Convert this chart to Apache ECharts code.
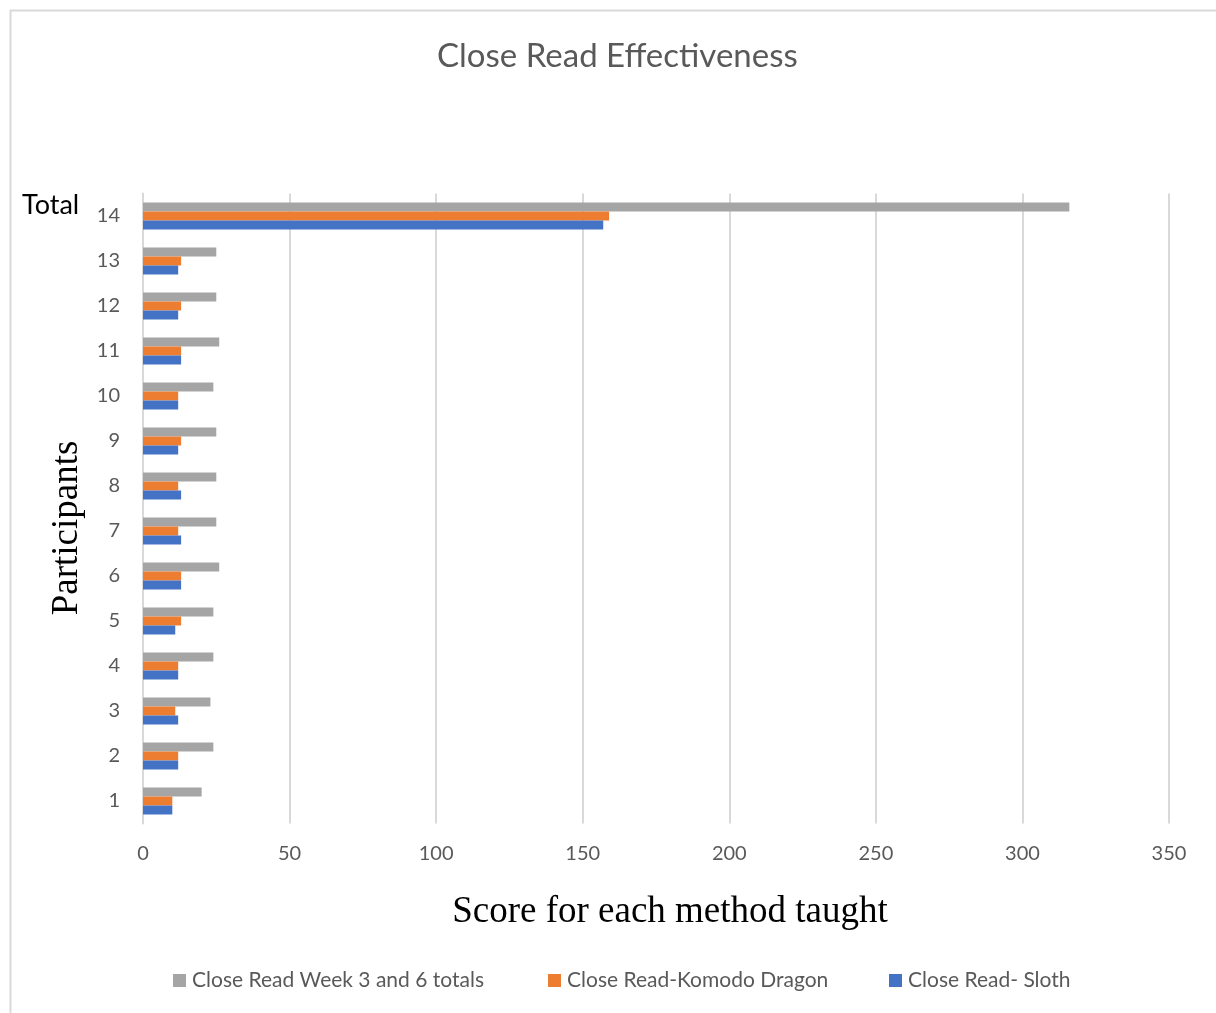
<!DOCTYPE html>
<html>
<head>
<meta charset="utf-8">
<script src="https://cdn.jsdelivr.net/npm/echarts@6/dist/echarts.min.js"></script>
<style>
  html, body { margin: 0; padding: 0; background: #ffffff; }
  #chart { width: 1216px; height: 1013px; }
</style>
</head>
<body>
<div id="chart"></div>
<script>
// Participant numbers (14 = total row)
const participants = ['1', '2', '3', '4', '5', '6', '7', '8', '9', '10', '11', '12', '13', '14'];

// Scores per participant
const weekTotals = [20, 24, 23, 24, 24, 26, 25, 25, 25, 24, 26, 25, 25, 316];
const komodoDragon = [10, 12, 11, 12, 13, 13, 12, 12, 13, 12, 13, 13, 13, 159];
const sloth = [10, 12, 12, 12, 11, 13, 13, 13, 12, 12, 13, 12, 12, 157];

// Value axis ticks
const xTicks = { min: 0, max: 350, interval: 50 };

const seriesNames = ['Close Read Week 3 and 6 totals', 'Close Read-Komodo Dragon', 'Close Read- Sloth'];
const seriesColors = ['#a5a5a5', '#ed7d31', '#4472c4'];

const sansFont = 'Lato, "Liberation Sans", sans-serif';
const serifFont = '"Liberation Serif", "DejaVu Serif", serif';

const chart = echarts.init(document.getElementById('chart'), null, { renderer: 'canvas' });

const seriesData = [weekTotals, komodoDragon, sloth];

// One legend block per series, each placed on its own
const legendLefts = [168, 543, 884];
const legends = seriesNames.map((name, i) => ({
  left: legendLefts[i],
  top: 965,
  itemWidth: 13,
  itemHeight: 13,
  icon: 'rect',
  data: [name],
  textStyle: { fontFamily: sansFont, fontSize: 21, color: '#595959', padding: [0, 0, 0, 1] }
}));

chart.setOption({
  backgroundColor: '#ffffff',
  animation: false,
  title: {
    text: 'Close Read Effectiveness',
    left: 432,
    top: 35,
    textStyle: { fontFamily: sansFont, fontSize: 33, fontWeight: 'normal', color: '#595959' }
  },
  legend: legends,
  grid: { left: 143, right: 47, top: 193.5, bottom: 189.5, containLabel: false },
  xAxis: {
    type: 'value',
    min: xTicks.min,
    max: xTicks.max,
    interval: xTicks.interval,
    axisLine: { show: false },
    axisTick: { show: false },
    splitLine: { show: true, lineStyle: { color: '#d9d9d9', width: 2 } },
    axisLabel: { fontFamily: sansFont, fontSize: 20, color: '#595959', margin: 20 }
  },
  yAxis: {
    type: 'category',
    data: participants,
    axisLine: { show: true, lineStyle: { color: '#d9d9d9', width: 2 } },
    axisTick: { show: false },
    axisLabel: { fontFamily: sansFont, fontSize: 20, color: '#595959', margin: 23, padding: [3, 0, 0, 0] }
  },
  series: seriesNames.map((name, i) => ({
    name: name,
    type: 'bar',
    data: seriesData[i],
    barWidth: 9,
    barGap: '0%',
    itemStyle: { color: seriesColors[i] }
  })),
  graphic: [
    {
      type: 'rect',
      silent: true,
      shape: { x: 10.5, y: 10.5, width: 1230, height: 1030 },
      style: { fill: 'none', stroke: '#d9d9d9', lineWidth: 2 }
    },
    {
      type: 'text',
      x: 22,
      y: 205,
      style: { text: 'Total', font: '27px ' + sansFont, fill: '#000000', verticalAlign: 'middle' }
    },
    {
      type: 'text',
      x: 67,
      y: 528,
      rotation: Math.PI / 2,
      style: {
        text: 'Participants',
        font: '37px ' + serifFont,
        fill: '#000000',
        align: 'center',
        verticalAlign: 'middle'
      }
    },
    {
      type: 'text',
      x: 670,
      y: 912,
      style: {
        text: 'Score for each method taught',
        font: '37px ' + serifFont,
        fill: '#000000',
        align: 'center',
        verticalAlign: 'middle'
      }
    }
  ]
});
</script>
</body>
</html>
